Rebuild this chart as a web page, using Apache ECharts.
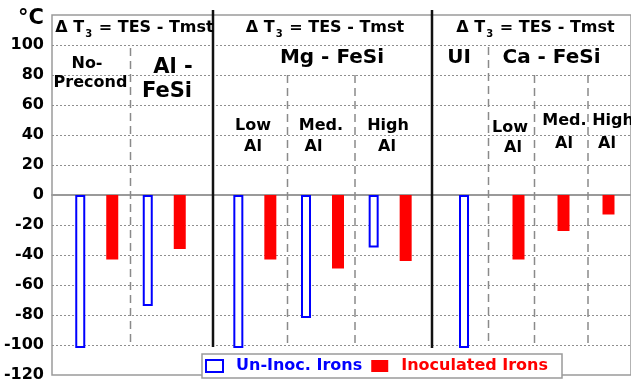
<!DOCTYPE html>
<html>
<head>
<meta charset="utf-8">
<script src="https://cdn.jsdelivr.net/npm/echarts@6/dist/echarts.min.js"></script>
<style>html,body{margin:0;padding:0;background:#fff;}#c{width:631px;height:383px;}</style>
</head>
<body>
<div id="c"></div>
<script>
// ---- data ----
const headerText = 'Δ T3 = TES - Tmst';
const sec1Categories = ['No-Precond', 'Al - FeSi'];
const sec1UnInoc = [-102, -74];
const sec1Inoc = [-43, -36];
const mgTitle = 'Mg - FeSi';
const mgCategories = ['Low Al', 'Med. Al', 'High Al'];
const mgUnInoc = [-102, -82, -35];
const mgInoc = [-43, -49, -44];
const uiCategories = ['UI'];
const uiUnInoc = [-102];
const caTitle = 'Ca - FeSi';
const caCategories = ['Low Al', 'Med. Al', 'High Al'];
const caInoc = [-43, -24, -13];
const seriesNames = ['Un-Inoc. Irons', 'Inoculated Irons'];
const yMin = -120, yMax = 120, yStep = 20, yUnit = '°C';

// ---- styling ----
const FONT = '"DejaVu Sans", "Liberation Sans", Arial, sans-serif';
const BLUE = '#0000ff', RED = '#ff0000';
const TOP = 15, BOTTOM = 8;

const chart = echarts.init(document.getElementById('c'), null, {renderer: 'canvas'});

function hiddenX(gi, cats) {
  return {type: 'category', gridIndex: gi, data: cats, show: false};
}
function hiddenY(gi) {
  return {type: 'value', gridIndex: gi, min: yMin, max: yMax, interval: yStep, show: false, splitLine: {show: false}};
}
const blueStyle = {color: '#ffffff', borderColor: BLUE, borderWidth: 2};
const redStyle = {color: RED};

function txt(text, x, y, size, extra) {
  return Object.assign({
    type: 'text', z: 50,
    style: {text: text, x: x, y: y, fill: '#000', align: 'center', verticalAlign: 'middle',
      font: 'bold ' + size + 'px ' + FONT}
  }, extra || {});
}
function vline(x, y1, y2, solid) {
  return {
    type: 'line', z: 40,
    shape: {x1: x, y1: y1, x2: x, y2: y2},
    style: solid ? {stroke: '#111', lineWidth: 2.5}
                 : {stroke: '#8a8a8a', lineWidth: 1.5, lineDash: [8, 5]}
  };
}
function header(x) {
  const m = headerText.match(/^(.*T)(3)(.*)$/);
  return {
    type: 'text', z: 50,
    style: {
      text: '{n|' + m[1] + '}{s|' + m[2] + '}{n|' + m[3] + '}', x: x, y: 28, align: 'center', verticalAlign: 'middle',
      rich: {
        n: {font: 'bold 16px ' + FONT, fill: '#000'},
        s: {font: 'bold 10px ' + FONT, fill: '#000', padding: [13, 1, 0, 1]}
      }
    }
  };
}
function splitCat(s) { const i = s.lastIndexOf(' '); return [s.slice(0, i), s.slice(i + 1)]; }

const graphics = [
  header(134.5), header(325), header(535.5),
  vline(213, 10, 347, true), vline(432, 10, 348, true),
  vline(130.5, 48, 345, false),
  vline(287.5, 75, 345, false), vline(355, 75, 345, false),
  vline(488.5, 47, 345, false),
  vline(534.5, 75, 345, false), vline(588, 75, 345, false),
  // section 1 labels
  txt('No-', 87, 64, 16), txt('Precond', 90.5, 83, 16),
  txt(sec1Categories[1].split(' - ')[0] + ' -', 173, 68, 21),
  txt(sec1Categories[1].split(' - ')[1], 167, 92, 21),
  txt(mgTitle, 332, 58, 20),
  txt(uiCategories[0], 459, 58, 20),
  txt(caTitle, 551.5, 58, 20)
];
const mgPos = [[253, 126, 253, 147], [321, 126, 313.5, 147], [388, 126, 387, 147]];
mgCategories.forEach(function (c, i) {
  const p = splitCat(c), q = mgPos[i];
  graphics.push(txt(p[0], q[0], q[1], 16), txt(p[1], q[2], q[3], 16));
});
const caPos = [[510, 127.5, 513, 148], [564.5, 121, 564, 144], [613, 121, 607, 144]];
caCategories.forEach(function (c, i) {
  const p = splitCat(c), q = caPos[i];
  graphics.push(txt(p[0], q[0], q[1], 16), txt(p[1], q[2], q[3], 16));
});

const option = {
  backgroundColor: '#ffffff',
  animation: false,
  grid: [
    {left: 52, right: -20, top: TOP, bottom: BOTTOM, show: true, borderColor: '#9a9a9a', borderWidth: 1.5, backgroundColor: 'transparent'},
    {left: 63, width: 135, top: TOP, bottom: BOTTOM},
    {left: 221, width: 203, top: TOP, bottom: BOTTOM},
    {left: 436, width: 56, top: TOP, bottom: BOTTOM},
    {left: 496, width: 135, top: TOP, bottom: BOTTOM}
  ],
  xAxis: [
    {type: 'value', gridIndex: 0, min: 0, max: 1, axisLine: {show: true, onZero: true, lineStyle: {color: '#9a9a9a', width: 2}},
     axisTick: {show: false}, axisLabel: {show: false}, splitLine: {show: false}},
    hiddenX(1, sec1Categories), hiddenX(2, mgCategories), hiddenX(3, uiCategories), hiddenX(4, caCategories)
  ],
  yAxis: [
    {type: 'value', gridIndex: 0, min: yMin, max: yMax, interval: yStep,
     axisLine: {show: false}, axisTick: {show: false},
     axisLabel: {margin: 8, color: '#000', fontFamily: FONT, fontWeight: 'bold', fontSize: 16,
       formatter: function (v) { return v === yMax ? '{u|' + yUnit + '}' : String(v); },
       rich: {u: {fontFamily: FONT, fontWeight: 'bold', fontSize: 21, color: '#000', padding: [8, 0, 0, 0]}}},
     splitLine: {show: true, showMinLine: false, showMaxLine: false, lineStyle: {color: '#8f8f8f', type: [2, 2], width: 1}}},
    hiddenY(1), hiddenY(2), hiddenY(3), hiddenY(4)
  ],
  legend: {
    left: 202, top: 354, orient: 'horizontal', z: 60,
    icon: 'rect',
    itemWidth: 17, itemHeight: 12, itemGap: 9,
    padding: [4, 14, 4, 3],
    borderColor: '#9a9a9a', borderWidth: 1.5, backgroundColor: '#ffffff',
    textStyle: {fontFamily: FONT, fontWeight: 'bold', fontSize: 16, padding: [0, 0, 0, 8]},
    data: [
      {name: seriesNames[0], textStyle: {color: BLUE}},
      {name: seriesNames[1], textStyle: {color: RED}}
    ]
  },
  series: [
    {name: seriesNames[0], type: 'bar', xAxisIndex: 1, yAxisIndex: 1, data: sec1UnInoc, barWidth: 10, barGap: '210%', itemStyle: blueStyle},
    {name: seriesNames[1], type: 'bar', xAxisIndex: 1, yAxisIndex: 1, data: sec1Inoc, barWidth: 12, itemStyle: redStyle},
    {name: seriesNames[0], type: 'bar', xAxisIndex: 2, yAxisIndex: 2, data: mgUnInoc, barWidth: 10, barGap: '210%', itemStyle: blueStyle},
    {name: seriesNames[1], type: 'bar', xAxisIndex: 2, yAxisIndex: 2, data: mgInoc, barWidth: 12, itemStyle: redStyle},
    {name: seriesNames[0], type: 'bar', xAxisIndex: 3, yAxisIndex: 3, data: uiUnInoc, barWidth: 10, itemStyle: blueStyle},
    {name: seriesNames[1], type: 'bar', xAxisIndex: 4, yAxisIndex: 4, data: caInoc, barWidth: 12, itemStyle: redStyle}
  ],
  graphic: graphics
};
chart.setOption(option);
</script>
</body>
</html>
